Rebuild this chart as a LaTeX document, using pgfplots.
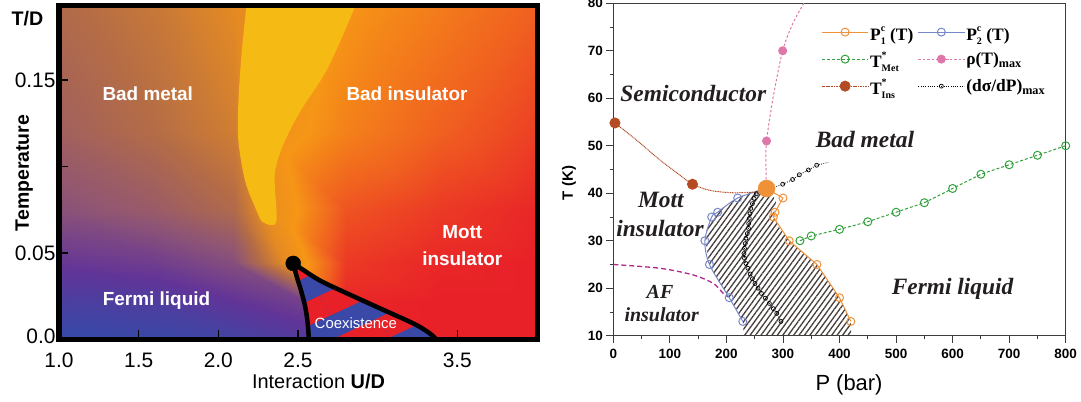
\documentclass[border=0pt]{standalone}
\usepackage{pgfplots}
\pgfplotsset{compat=1.18}
\usepackage{fontspec}
\setmainfont{Liberation Sans}
\newfontfamily\tnr{Liberation Serif}
\usetikzlibrary{patterns.meta}

\definecolor{fermiblue}{RGB}{58,72,168}
\definecolor{mottred}{RGB}{232,32,40}
\definecolor{widom}{RGB}{246,186,20}
\definecolor{pone}{RGB}{240,145,60}
\definecolor{ptwo}{RGB}{120,135,200}
\definecolor{tmet}{RGB}{50,160,60}
\definecolor{rhomax}{RGB}{222,120,170}
\definecolor{tins}{RGB}{180,75,35}
\definecolor{afline}{RGB}{175,40,140}
\definecolor{critorange}{RGB}{238,145,55}
\definecolor{hatch}{RGB}{70,60,60}
\definecolor{spine}{RGB}{60,60,60}
\definecolor{regiontext}{RGB}{35,31,32}

% superscript stacked over subscript
\newcommand{\supsub}[2]{\raisebox{-3.5bp}{\fontsize{10}{13}\selectfont
  \begin{tabular}[b]{@{}l@{}}#1\\#2\end{tabular}}}
\newcommand{\regionfont}{\tnr\bfseries\itshape\fontsize{23.5}{23.5}\selectfont}

\begin{document}
\begin{tikzpicture}
\useasboundingbox (0,0) rectangle (1081bp,402bp);

% ---------------- DMFT phase diagram ----------------
\begin{axis}[
  at={(59bp,62.5bp)}, anchor=south west,
  scale only axis, width=478bp, height=333.7bp,
  xmin=1.0, xmax=4.0, ymin=0, ymax=0.193,
  axis on top,
  axis line style={line width=5bp, black, line cap=rect},
  xtick={1.0,1.5,2.0,2.5,3.5}, xticklabels={1.0,1.5,2.0,2.5,3.5},
  ytick={0,0.05,0.1,0.15}, yticklabels={\raisebox{7bp}{0.0},0.05,,0.15},
  xtick pos=bottom, ytick pos=left,
  tick align=inside, major tick length=9bp,
  tick style={line width=1.3bp, black},
  ticklabel style={font=\fontsize{21}{21}\selectfont},
  xticklabel style={yshift=-10bp},
  colormap={phase}{rgb255=(52,74,168) rgb255=(98,52,152) rgb255=(142,84,118)
    rgb255=(180,108,70) rgb255=(228,138,35) rgb255=(246,150,22)
    rgb255=(240,96,32) rgb255=(232,32,40)},
  point meta min=0, point meta max=7,
]
% colour field of the crossover regimes
\addplot [surf, shader=interp, mesh/cols=8, point meta=explicit]
  table [x=x, y=y, meta=c] {
x y c
1.0 0 0.0
1.6 0 0.1
2.1 0 0.3
2.57 0 0.7
2.57 0 7.0
2.8 0 7.0
3.4 0 7.0
4.0 0 7.0
1.0 0.022 0.5
1.6 0.022 0.6
2.1 0.022 1.0
2.53 0.022 1.4
2.53 0.022 6.6
2.8 0.022 6.9
3.4 0.022 7.0
4.0 0.022 7.0
1.0 0.044 1.1
1.6 0.044 1.3
2.1 0.044 1.8
2.47 0.044 4.4
2.47 0.044 4.4
2.8 0.044 6.6
3.4 0.044 6.9
4.0 0.044 7.0
1.0 0.075 1.9
1.6 0.075 2.3
2.1 0.075 2.9
2.32 0.075 4.3
2.32 0.075 4.3
2.8 0.075 6.2
3.4 0.075 6.6
4.0 0.075 6.9
1.0 0.12 2.5
1.6 0.12 3.0
2.1 0.12 3.6
2.27 0.12 4.5
2.27 0.12 4.5
2.8 0.12 5.4
3.4 0.12 6.0
4.0 0.12 6.5
1.0 0.193 2.9
1.6 0.193 3.4
2.1 0.193 4.0
2.5 0.193 4.6
2.5 0.193 4.6
2.8 0.193 5.0
3.4 0.193 5.5
4.0 0.193 6.0
};
% Widom line region
\addplot [fill=widom, draw=none, smooth, tension=0.5] coordinates {
  (2.180,0.196) (2.148,0.1672) (2.126,0.138) (2.126,0.1147) (2.169,0.0914)
  (2.234,0.0758) (2.278,0.068) (2.364,0.068) (2.354,0.0953) (2.408,0.1128)
  (2.516,0.1322) (2.690,0.1575) (2.874,0.196)};
% coexistence region, striped
\addplot [fill=fermiblue, draw=none] coordinates {
  (2.47,0.044) (2.49,0.037) (2.52,0.028) (2.545,0.019) (2.56,0.01) (2.57,0)
  (3.37,0) (3.36,0.0008) (3.32,0.004) (3.23,0.009) (3.015,0.018) (2.80,0.027)
  (2.64,0.034) (2.52,0.041) (2.47,0.044)};
\addplot [pattern={Lines[angle=25, distance=45bp, line width=22.5bp, yshift=-5.5bp]},
  pattern color=mottred, draw=none] coordinates {
  (2.47,0.044) (2.49,0.037) (2.52,0.028) (2.545,0.019) (2.56,0.01) (2.57,0)
  (3.37,0) (3.36,0.0008) (3.32,0.004) (3.23,0.009) (3.015,0.018) (2.80,0.027)
  (2.64,0.034) (2.52,0.041) (2.47,0.044)};
% spinodal lines
\addplot [black, line width=4.5bp, smooth] coordinates {
  (2.47,0.044) (2.49,0.037) (2.52,0.028) (2.545,0.019) (2.56,0.01) (2.57,-0.002)};
\addplot [black, line width=4.5bp, smooth] coordinates {
  (2.47,0.044) (2.52,0.041) (2.64,0.034) (2.80,0.027) (3.015,0.018)
  (3.23,0.009) (3.32,0.004) (3.36,0.0008) (3.37,-0.002)};
% critical end point
\addplot [only marks, mark=*, mark size=7.5bp, black] coordinates {(2.47,0.044)};

\node[white, font=\bfseries\fontsize{19}{19}\selectfont] at (axis cs:1.557,0.1423) {Bad metal};
\node[white, font=\bfseries\fontsize{19}{19}\selectfont] at (axis cs:3.184,0.1423) {Bad insulator};
\node[white, font=\bfseries\fontsize{19}{19}\selectfont] at (axis cs:3.531,0.0622) {Mott};
\node[white, font=\bfseries\fontsize{19}{19}\selectfont] at (axis cs:3.531,0.0467) {insulator};
\node[white, font=\bfseries\fontsize{19}{19}\selectfont] at (axis cs:1.612,0.0227) {Fermi liquid};
\node[white, font=\fontsize{15}{15}\selectfont] at (axis cs:2.863,0.0097) {Coexistence};
\end{axis}

\node[font=\bfseries\fontsize{19.7}{19.7}\selectfont] at (27.5bp,383bp) {T/D};
\node[font=\bfseries\fontsize{19.5}{19.5}\selectfont, rotate=90] at (24.2bp,229bp) {Temperature};
\node[font=\fontsize{20}{20}\selectfont] at (318.5bp,20.5bp) {Interaction \textbf{U/D}};

% ---------------- pressure -- temperature phase diagram ----------------
\begin{axis}[
  at={(613.3bp,66.3bp)}, anchor=south west,
  scale only axis, width=452.4bp, height=332.4bp,
  xmin=0, xmax=800, ymin=10, ymax=80,
  axis line style={line width=0.9bp, spine},
  xtick={0,100,...,800}, ytick={10,20,...,80},
  minor x tick num=1, minor y tick num=1,
  xtick pos=bottom, ytick pos=left,
  tick align=outside, major tick length=7bp, minor tick length=3.5bp,
  tick style={line width=0.9bp, spine},
  /pgf/number format/assume math mode=true,
  ticklabel style={font=\bfseries\fontsize{13.5}{13.5}\selectfont},
  xticklabel style={yshift=-3bp},
  legend columns=2, legend cell align=left,
  legend style={at={(axis cs:368,76.4)}, anchor=north west, draw=none, fill=none,
    font=\tnr\bfseries\fontsize{17.5}{17.5}\selectfont, inner sep=0pt,
    nodes={inner sep=1.5bp}, row sep=4bp,
    /tikz/every even column/.append style={column sep=3bp}},
  legend image code/.code={\draw[mark indices={2}] plot coordinates {(0bp,0bp) (23bp,0bp) (46bp,0bp)};},
]
% coexistence region
\addplot [forget plot, draw=none,
  pattern={Lines[angle=54, distance=4.4bp, line width=1.3bp]}, pattern color=hatch]
  coordinates {
  (231,10) (229,13) (216,16) (205,18) (186,21.5) (170,25) (163,30) (166,33)
  (174,35) (184.5,36) (200,37.5) (220,39) (245,40.3) (271,41)
  (288,38.5) (283,35) (295,32.5) (311,30) (335,27.5) (360,25) (380,21.5)
  (400,18) (410,15.5) (420,13) (421,10)};
% antiferromagnetic boundary
\addplot [forget plot, afline, line width=1.3bp, dash pattern=on 5bp off 3bp, smooth]
  coordinates {(0,25) (82.5,24.2) (141,22.8) (177,21) (194.5,18.9) (203,18.2)};

\addplot [pone, line width=1bp, mark=o, mark size=4bp,
  mark options={solid, fill=white, line width=1bp}, mark indices={2,3,4,5,6,7,8}]
  coordinates {(271,41) (300,39) (286,36) (283,35) (311,30) (360,25) (400,18) (420,13)};
\addlegendentry{P\supsub{c}{1} (T)}

\addplot [ptwo, line width=1bp, smooth, mark=o, mark size=4bp,
  mark options={solid, fill=white, line width=1bp}, mark indices={2,3,4,5,6,7,8}]
  coordinates {(266,40.8) (220,39) (184.5,36) (174,35) (162,30) (170,25) (205,18) (229,13)};
\addlegendentry{P\supsub{c}{2} (T)}

\addplot [tmet, line width=1bp, dash pattern=on 3bp off 2bp, mark=o, mark size=4bp,
  mark options={solid, fill=white, line width=1bp}]
  coordinates {(330,30) (350,31) (400,32.4) (450,34) (500,36) (550,38) (600,41)
  (650,44) (700,46) (750,48) (800,50)};
\addlegendentry{T\supsub{*}{Met}}

\addplot [rhomax, line width=1bp, dash pattern=on 2.5bp off 2bp, smooth, mark=*,
  mark size=4bp, mark options={solid, fill=rhomax, draw=rhomax}, mark indices={3,5}]
  coordinates {(270.7,41) (270,45.6) (271,51) (283,60.4) (299.5,70) (318,75.9) (339,80.4)};
\addlegendentry{ρ(T)\textsubscript{max}}

\addplot [tins, line width=1bp, dash pattern=on 1bp off 0.7bp, smooth, mark=*,
  mark size=5bp, mark options={solid, fill=tins, draw=tins}, mark indices={1,5}]
  coordinates {(2.9,54.8) (41,51.2) (82.5,47) (118,43.8) (140,41.9) (171,40.6) (212,40.1) (259,40.3)};
\addlegendentry{T\supsub{*}{Ins}}

\addplot [black, line width=0.8bp, dash pattern=on 0.8bp off 1.5bp, mark=o, mark size=2bp,
  mark options={solid, fill=white, line width=0.7bp}]
  coordinates {(296.5,13) (289,14.7) (283,15.7) (276,16.8) (269,17.9) (262,18.9)
  (256,20) (250.5,21) (246,22) (242,23) (238,24.2) (234.6,25.2) (232,26.3)
  (231,27.3) (232,28.4) (233.4,29.4) (234.6,30.5) (237,31.5) (239,32.6)
  (239.3,33.6) (240.5,34.7) (241.7,35.7) (243,36.8) (246,37.8) (249,38.9)
  (253,39.9) (299.5,41.9) (317,42.9) (329,43.9) (345,44.9) (359.6,45.9)};
\addlegendentry{(dσ/dP)\textsubscript{max}}
\addplot [forget plot, black, line width=0.8bp, dash pattern=on 0.8bp off 1.5bp]
  coordinates {(359.6,45.9) (380,46.5)};

% critical end point
\addplot [forget plot, only marks, mark=*, mark size=8.5bp, critorange]
  coordinates {(271,41)};

\node[regiontext, font=\regionfont] at (axis cs:141.5,61) {Semiconductor};
\node[regiontext, font=\regionfont] at (axis cs:445,51.4) {Bad metal};
\node[regiontext, font=\regionfont] at (axis cs:84,38.6) {Mott};
\node[regiontext, font=\regionfont] at (axis cs:82.6,32.6) {insulator};
\node[regiontext, font=\tnr\bfseries\itshape\fontsize{20}{20}\selectfont] at (axis cs:82.6,19.3) {AF};
\node[regiontext, font=\tnr\bfseries\itshape\fontsize{20}{20}\selectfont] at (axis cs:85.6,14.4) {insulator};
\node[regiontext, font=\regionfont] at (axis cs:600,19.8) {Fermi liquid};
\end{axis}

\node[font=\bfseries\fontsize{15}{15}\selectfont, rotate=90] at (569bp,219bp) {T (K)};
\node[font=\fontsize{22}{22}\selectfont] at (849bp,17bp) {P (bar)};
\end{tikzpicture}
\end{document}
